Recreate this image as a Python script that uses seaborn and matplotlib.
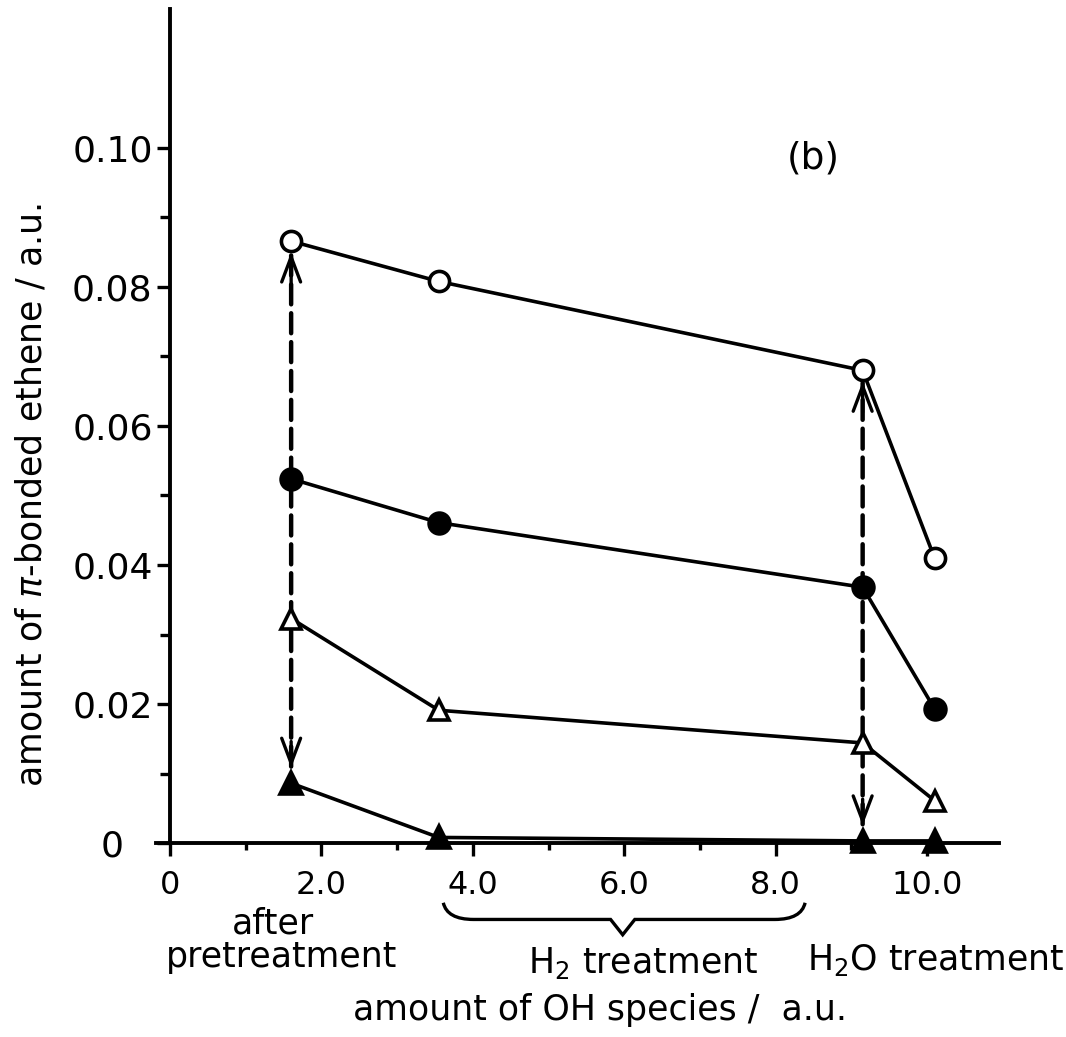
import matplotlib
matplotlib.use('Agg')
import matplotlib.pyplot as plt
from matplotlib.path import Path
from matplotlib.patches import PathPatch
import seaborn as sns

# amount of OH species / a.u. at each stage
oh_amount = [1.6, 3.55, 9.15, 10.1]

# amount of pi-bonded ethene / a.u. (one list per marker series)
open_circles = [0.0866, 0.0808, 0.0680, 0.0410]
filled_circles = [0.0524, 0.0461, 0.0368, 0.0193]
open_triangles = [0.0323, 0.0191, 0.0144, 0.0061]
filled_triangles = [0.0086, 0.0008, 0.0003, 0.0003]

x_ticks = [0, 2, 4, 6, 8, 10]
x_ticklabels = ['0', '2.0', '4.0', '6.0', '8.0', '10.0']
x_minor = [1, 3, 5, 7, 9]
y_ticks = [0, 0.02, 0.04, 0.06, 0.08, 0.10]
y_ticklabels = ['0', '0.02', '0.04', '0.06', '0.08', '0.10']
y_minor = [0.01, 0.03, 0.05, 0.07, 0.09]

sns.set_style('ticks')
plt.rcParams['font.family'] = ['DejaVu Sans']
plt.rcParams['mathtext.fontset'] = 'dejavusans'
plt.rcParams['text.color'] = 'black'
plt.rcParams['axes.edgecolor'] = 'black'
plt.rcParams['xtick.color'] = 'black'
plt.rcParams['ytick.color'] = 'black'

W, H = 1066, 1037
fig = plt.figure(figsize=(W / 100, H / 100), dpi=100)
ax = fig.add_axes([156.4 / W, 194 / H, 842.5 / W, 834 / H])

# the four series
series = [
    (open_circles, 'o', 'white', 14.5),
    (filled_circles, 'o', 'black', 15),
    (open_triangles, '^', 'white', 15),
    (filled_triangles, '^', 'black', 16),
]
for vals, mk, face, ms in series:
    sns.lineplot(x=oh_amount, y=vals, ax=ax, color='black', lw=2.6,
                 marker=mk, markersize=ms, markerfacecolor=face,
                 markeredgecolor='black', markeredgewidth=2.6,
                 errorbar=None, legend=False, zorder=3, clip_on=False)

# dashed double arrows (open circle <-> filled triangle)
head = dict(arrowstyle='->,head_length=0.45,head_width=0.17', lw=2.4,
            color='black', mutation_scale=40, shrinkA=0)
for i in [0, 2]:
    x = oh_amount[i]
    top = open_circles[i]
    bot = filled_triangles[i]
    ax.annotate('', xy=(x, top), xytext=(x, bot), zorder=1,
                arrowprops=dict(arrowstyle='-', lw=3.2, ls=(0, (4.5, 2)),
                                color='black', shrinkA=12, shrinkB=9))
    ax.annotate('', xy=(x, top), xytext=(x, top - 0.006), zorder=1,
                arrowprops=dict(head, shrinkB=8))
    ax.annotate('', xy=(x, bot), xytext=(x, bot + 0.006), zorder=1,
                arrowprops=dict(head, shrinkB=11))

# axes look
ax.set_xlim(-0.18, 10.95)
ax.set_ylim(0, 0.12)
ax.spines['left'].set_position(('data', 0))
ax.spines['right'].set_visible(False)
ax.spines['top'].set_visible(False)
for s in ['left', 'bottom']:
    ax.spines[s].set_linewidth(2.8)

ax.set_xticks(x_ticks)
ax.set_xticklabels(x_ticklabels)
ax.set_xticks(x_minor, minor=True)
ax.set_yticks(y_ticks)
ax.set_yticklabels(y_ticklabels)
ax.set_yticks(y_minor, minor=True)
ax.tick_params(axis='x', which='major', direction='out', length=9.5, width=2.4,
               labelsize=23, pad=10)
ax.tick_params(axis='x', which='minor', direction='out', length=5, width=2.4)
ax.tick_params(axis='y', which='major', direction='out', length=9.5, width=2.4,
               labelsize=26, pad=32)
ax.tick_params(axis='y', which='minor', direction='out', length=7, width=2.4)
for lab in ax.get_yticklabels():
    lab.set_ha('center')
ax.set_xlabel('')
ax.set_ylabel('')

ax.text(8.5, 0.0985, '(b)', ha='center', va='center', fontsize=27)

# brace under 4.0 - 8.0
bx0, bx1, bmid = 3.61, 8.39, 5.98
yt, yl, ytip = -0.0086, -0.0110, -0.0132
verts = [(bx0, yt), (bx0 + 0.05, yl), (bx0 + 0.4, yl),
         (bmid - 0.16, yl), (bmid, ytip), (bmid + 0.16, yl),
         (bx1 - 0.4, yl), (bx1 - 0.05, yl), (bx1, yt)]
codes = [Path.MOVETO, Path.CURVE3, Path.CURVE3,
         Path.LINETO, Path.LINETO, Path.LINETO,
         Path.LINETO, Path.CURVE3, Path.CURVE3]
ax.add_patch(PathPatch(Path(verts, codes), fill=False, lw=2.4,
                       color='black', clip_on=False))

# texts below the axis
fs = 25
fig.text(273 / W, 1 - 933 / H, 'after', ha='center', va='baseline', fontsize=fs)
fig.text(282 / W, 1 - 967 / H, 'pretreatment', ha='center', va='baseline', fontsize=fs)
fig.text(643 / W, 1 - 973 / H, 'H$_2$ treatment', ha='center', va='baseline', fontsize=fs)
fig.text(936 / W, 1 - 970 / H, 'H$_2$O treatment', ha='center', va='baseline', fontsize=fs)
fig.text(600 / W, 1 - 1020 / H, 'amount of OH species /  a.u.', ha='center',
         va='baseline', fontsize=fs)
fig.text(32 / W, 1 - 495 / H, r'amount of $\pi$-bonded ethene / a.u.',
         rotation=90, ha='center', va='center', fontsize=fs)

fig.savefig('out.png', dpi=100)
